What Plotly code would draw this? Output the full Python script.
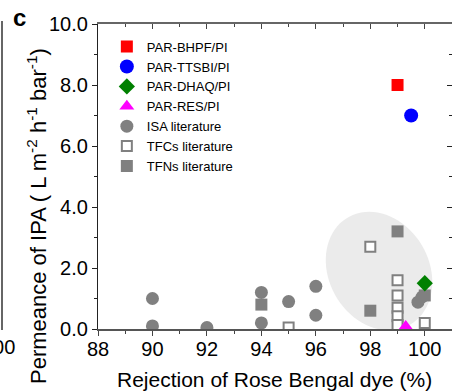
import numpy as np
import plotly.graph_objects as go

# ---- data ----
bhpf_x = [99.0]; bhpf_y = [8.0]
ttsbi_x = [99.5]; ttsbi_y = [7.0]
dhaq_x = [100.0]; dhaq_y = [1.5]
res_x = [99.3]; res_y = [0.08]
isa_x = [90, 90, 92, 94, 94, 95, 96, 96, 99.75, 99.9]
isa_y = [1.0, 0.1, 0.05, 1.2, 0.2, 0.9, 1.4, 0.45, 0.88, 1.05]
tfc_x = [95, 98, 99, 99, 99, 99, 99, 100]
tfc_y = [0.05, 2.7, 1.6, 1.1, 0.7, 0.42, 0.13, 0.2]
tfn_x = [94, 98, 99, 100.0]
tfn_y = [0.8, 0.6, 3.2, 1.1]

x_ticks = [88, 90, 92, 94, 96, 98, 100]
y_ticks = [0, 2, 4, 6, 8, 10]

W, H = 452, 392
ML, MR, MT, MB = 98, 0, 24, 63
XR = [88, 101]
YR = [0, 10]
GRAY = "#808080"
FONT = "Liberation Sans, Arial, sans-serif"

fig = go.Figure()

def add(name, xs, ys, symbol, color, size, rank, line_color=None, line_w=0):
    fig.add_trace(go.Scatter(
        x=xs, y=ys, mode="markers", name=name, legendrank=rank,
        marker=dict(symbol=symbol, color=color, size=size,
                    line=dict(color=line_color or color, width=line_w)),
    ))

add("ISA literature", isa_x, isa_y, "circle", GRAY, 13, 5)
add("TFCs literature", tfc_x, tfc_y, "square", "white", 10, 6, GRAY, 2)
add("TFNs literature", tfn_x, tfn_y, "square", GRAY, 12, 7)
add("PAR-BHPF/PI", bhpf_x, bhpf_y, "square", "#ff0000", 12, 1)
add("PAR-TTSBI/PI", ttsbi_x, ttsbi_y, "circle", "#0000ff", 14, 2)
add("PAR-DHAQ/PI", dhaq_x, dhaq_y, "diamond", "#008000", 12.5, 3)
add("PAR-RES/PI", res_x, res_y, "triangle-up", "#ff00ff", 13, 4)

# shaded ellipse (decoration), defined in data units + pixel semi-axes
pw = W - ML - MR
ph = H - MT - MB
sx = pw / (XR[1] - XR[0])
sy = ph / (YR[1] - YR[0])
cx, cy = 98.32, 1.90
a_px, b_px, phi = 62, 50, np.deg2rad(30)
t = np.linspace(0, 2 * np.pi, 80)
ux, uy = np.sin(phi), np.cos(phi)
vx, vy = np.cos(phi), -np.sin(phi)
dx = a_px * np.cos(t) * ux + b_px * np.sin(t) * vx
dy = a_px * np.cos(t) * uy + b_px * np.sin(t) * vy
ex = cx + dx / sx
ey = cy - dy / sy
path = "M " + " L ".join(f"{a:.4f},{b:.4f}" for a, b in zip(ex, ey)) + " Z"
fig.add_shape(type="path", path=path, xref="x", yref="y",
              fillcolor="#ebebeb", line=dict(width=0), layer="below")

axis_font = dict(family=FONT, size=20, color="black")

fig.update_layout(
    width=W, height=H,
    margin=dict(l=ML, r=MR, t=MT, b=MB, pad=0, autoexpand=False),
    paper_bgcolor="white", plot_bgcolor="white",
    showlegend=True,
    legend=dict(x=0.025, y=0.975, xanchor="left", yanchor="top",
                font=dict(family=FONT, size=13, color="black"),
                bgcolor="rgba(0,0,0,0)", tracegroupgap=0, itemsizing="trace"),
    xaxis=dict(range=XR, tickvals=x_ticks, ticks="outside", ticklen=5, tickwidth=1.2,
               tickcolor="#444", showline=True, linecolor="#555", linewidth=1.5,
               showgrid=False, zeroline=False, tickfont=axis_font, ticklabelstandoff=-4,
               minor=dict(dtick=1, ticks="outside", ticklen=3, tickcolor="#444", tickwidth=1)),
    yaxis=dict(range=YR, tickvals=y_ticks, tickformat=".1f", ticks="outside", ticklen=5,
               tickwidth=1.2, tickcolor="#222", showline=True, linecolor="#222", linewidth=1.2,
               showgrid=False, zeroline=False, tickfont=axis_font,
               minor=dict(dtick=1, ticks="outside", ticklen=3, tickcolor="#222", tickwidth=1)),
    xaxis2=dict(range=XR, overlaying="x", side="top", tickvals=x_ticks, showticklabels=False,
                ticks="inside", ticklen=5, tickwidth=1.2, tickcolor="#444",
                showline=True, linecolor="#666", linewidth=1.5, showgrid=False, zeroline=False,
                minor=dict(dtick=1, ticks="inside", ticklen=3, tickcolor="#444", tickwidth=1)),
    yaxis2=dict(range=YR, overlaying="y", side="right", tickvals=y_ticks, showticklabels=False,
                ticks="inside", ticklen=5, tickwidth=1.2, tickcolor="#222",
                showline=False, showgrid=False, zeroline=False,
                minor=dict(dtick=1, ticks="inside", ticklen=3, tickcolor="#222", tickwidth=1)),
)
# invisible trace to activate the mirror axes
fig.add_trace(go.Scatter(x=[XR[0]], y=[YR[0]], xaxis="x2", yaxis="y2", mode="markers",
                         marker=dict(opacity=0), showlegend=False, hoverinfo="skip"))

def px_x(p):
    return (p - ML) / pw

def px_y(p):
    return (H - MB - p) / ph

fig.add_annotation(text="Rejection of Rose Bengal dye (%)", xref="paper", yref="paper",
                   x=px_x(274), y=px_y(379), xanchor="center", yanchor="middle",
                   showarrow=False, font=dict(family=FONT, size=21, color="black"))
fig.add_annotation(text="Permeance of IPA ( L m<sup>-2</sup> h<sup>-1</sup> bar<sup>-1</sup>)",
                   xref="paper", yref="paper", x=px_x(37), y=px_y(216), textangle=-90,
                   xanchor="center", yanchor="middle",
                   showarrow=False, font=dict(family=FONT, size=22, color="black"))
fig.add_annotation(text="<b>c</b>", xref="paper", yref="paper", x=px_x(19), y=px_y(17),
                   xanchor="center", yanchor="middle",
                   showarrow=False, font=dict(family=FONT, size=24, color="black"))
# remnant of the neighbouring panel at the left edge
fig.add_shape(type="line", xref="paper", yref="paper", x0=px_x(2), x1=px_x(2),
              y0=px_y(21), y1=px_y(330), line=dict(color="#333", width=1.5))
fig.add_annotation(text="100", xref="paper", yref="paper", x=px_x(17), y=px_y(347),
                   xanchor="right", yanchor="middle", showarrow=False,
                   font=dict(family=FONT, size=20, color="black"))

fig.write_html("out.html", config={"displayModeBar": False},
               post_script="document.body.style.margin='0px';")
